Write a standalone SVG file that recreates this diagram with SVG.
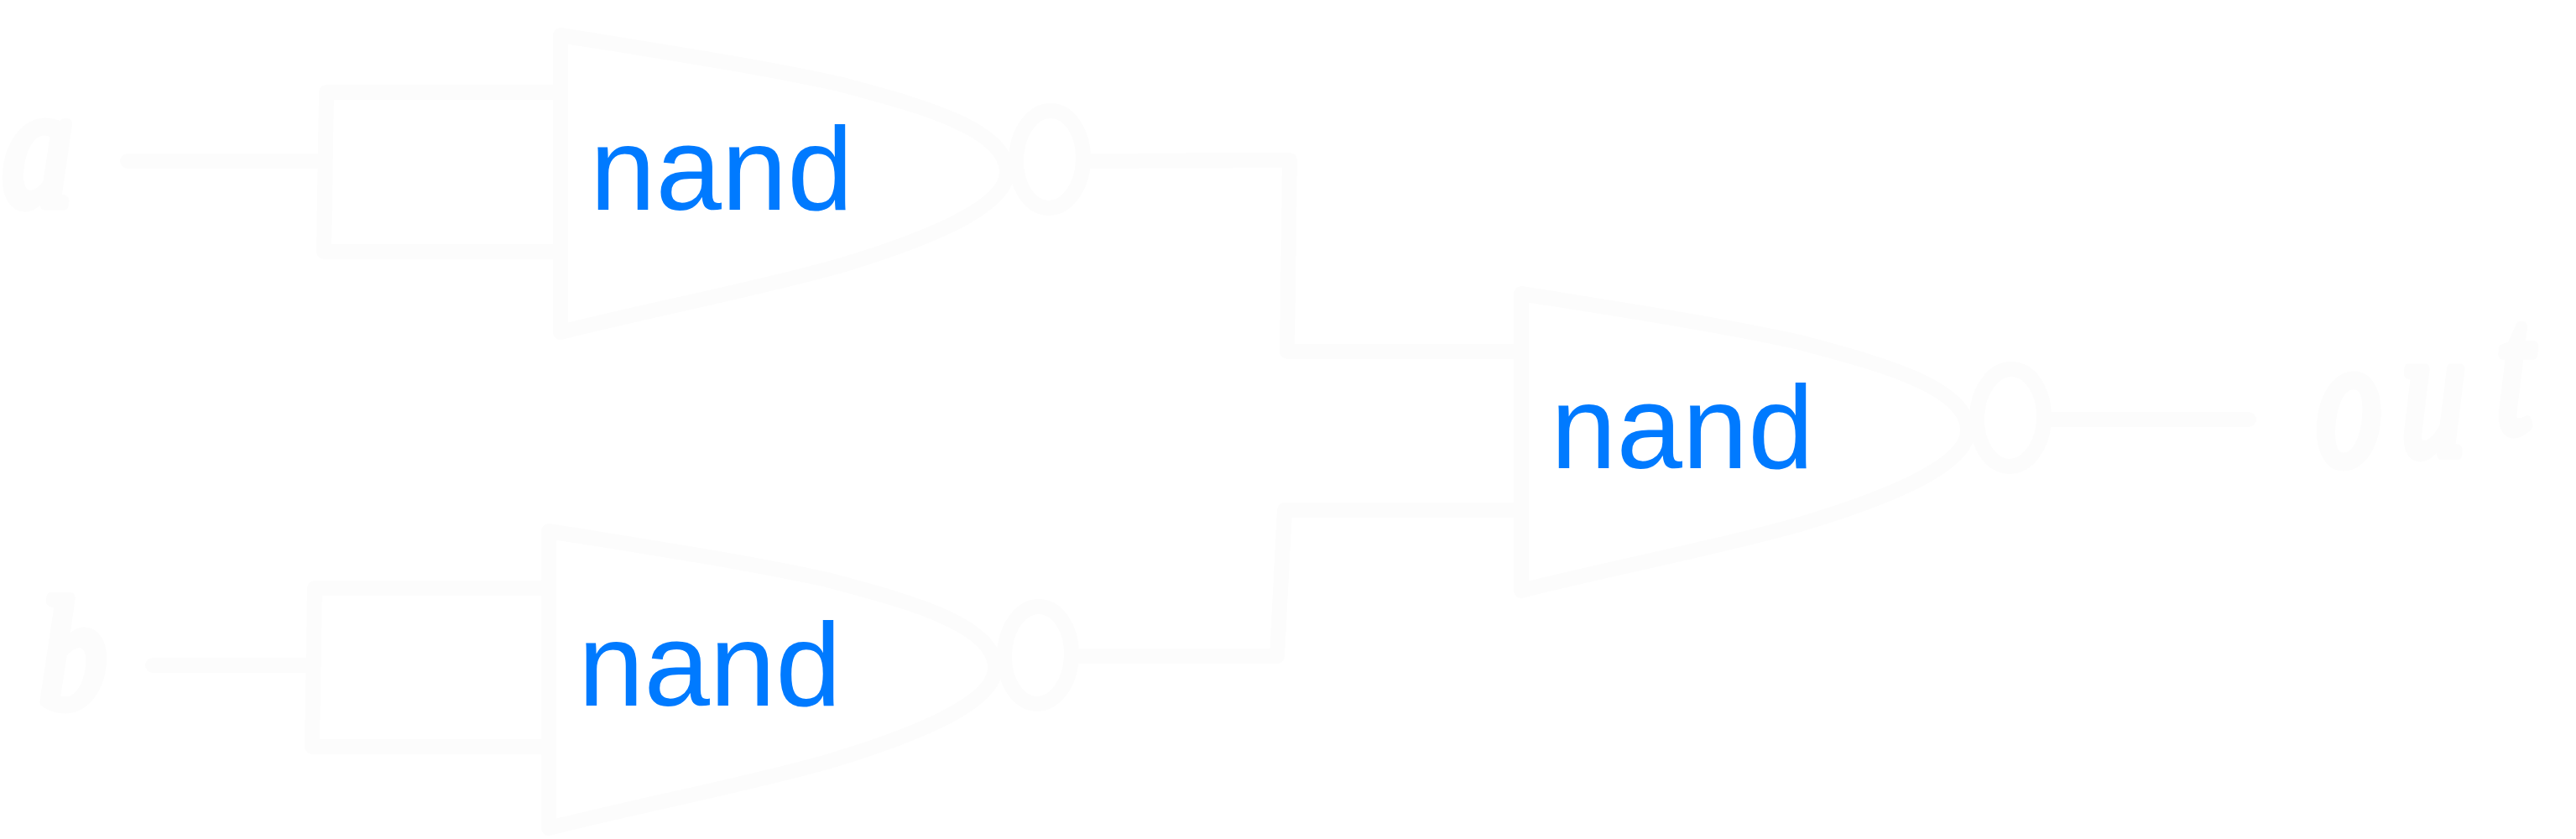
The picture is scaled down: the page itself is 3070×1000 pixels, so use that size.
<svg xmlns="http://www.w3.org/2000/svg" width="3070" height="1000" viewBox="0 0 3070 1000">
<style>
.s{fill:none;stroke:#fcfcfc;stroke-width:18;stroke-linejoin:round;stroke-linecap:round}
.n{fill:#007aff;font-family:"Liberation Sans",Arial,sans-serif;font-size:141px}
.h{fill:#fcfcfc;stroke:#fcfcfc;stroke-width:13;stroke-linejoin:round;font-family:"Liberation Serif","Times New Roman",serif;font-style:italic}
</style>
<defs>
<g id="gate">
<path class="s" d="M668 42C780 60 900 78 1000 100C1080 122 1200 150 1200 205C1200 250 1090 290 1000 317C900 345 780 368 668 396Z"/>
<ellipse class="s" cx="1251" cy="190" rx="40" ry="58" transform="rotate(2 1251 190)"/>
<text class="n" x="703" y="250">nand</text>
</g>
</defs>
<rect width="3070" height="1000" fill="#ffffff"/>
<g id="connectors">
<path class="s" d="M152 192H386M668 110H389L386 300H668"/>
<path class="s" d="M182 793H372M654 701H375L372 890H654"/>
<path class="s" d="M1300 192L1537 191L1534 419H1811"/>
<path class="s" d="M1285 782H1522L1531 608H1811"/>
<path class="s" d="M2443 500H2680"/>
</g>
<g id="gate-a"><use href="#gate"/></g>
<g id="gate-b"><use href="#gate" x="-14" y="591"/></g>
<g id="gate-out"><use href="#gate" x="1145" y="308"/></g>
<g id="input-a"><text class="h" font-size="205" transform="translate(3 244) scale(.82 1)" x="0" y="0">a</text></g>
<g id="input-b"><text class="h" font-size="187" transform="translate(47 842) scale(.85 1)" x="0" y="0">b</text></g>
<g id="output"><text class="h" font-size="220" transform="scale(.7 1)" x="3944 4088 4250" y="553 541 514">out</text></g>
</svg>
